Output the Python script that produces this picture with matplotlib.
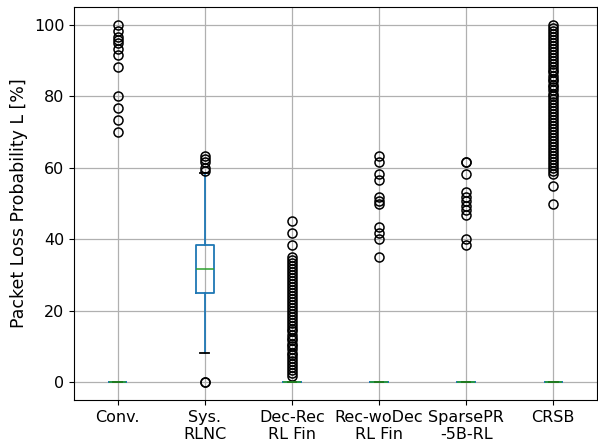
import matplotlib
matplotlib.use('Agg')
import matplotlib.pyplot as plt

# Box statistics, one entry per scheme
labels = ['Conv.', 'Sys.\nRLNC', 'Dec-Rec\nRL Fin', 'Rec-woDec\nRL Fin',
          'SparsePR\n-5B-RL', 'CRSB']
medians = [0, 31.7, 0, 0, 0, 0]
q1 = [0, 25.0, 0, 0, 0, 0]
q3 = [0, 38.3, 0, 0, 0, 0]
whislo = [0, 8.3, 0, 0, 0, 0]
whishi = [0, 58.5, 0, 0, 0, 0]

fliers_conv = [100.0, 98.3, 96.7, 95.8, 95.0, 93.3, 91.7, 88.3,
               80.0, 76.7, 73.3, 70.0]
fliers_sys = [0.0, 0.0, 59.2, 60.0, 61.7, 62.5, 63.3]
fliers_decrec = [1.7, 2.5, 3.3, 4.2, 5.0, 5.8, 6.7, 7.5, 8.3, 9.2, 10.0,
                 10.8, 11.7, 12.5, 13.3, 14.2, 15.0, 15.8, 16.7, 17.5, 18.3,
                 19.2, 20.0, 20.8, 21.7, 22.5, 23.3, 24.2, 25.0, 25.8, 26.7,
                 27.5, 28.3, 29.2, 30.0, 30.8, 31.7, 32.5, 33.3, 34.2, 35.0,
                 38.3, 41.7, 45.0]
fliers_recwodec = [35.0, 40.0, 41.7, 43.3, 50.0, 50.8, 51.7, 56.7, 58.3,
                   61.7, 63.3]
fliers_sparse = [38.3, 40.0, 46.7, 48.3, 49.2, 50.8, 51.7, 53.3, 58.3,
                 61.7, 61.7]
fliers_crsb = [50.0, 55.0, 58.3, 59.2, 60.0, 60.8, 61.7, 62.5, 63.3, 64.2,
               65.0, 65.8, 66.7, 67.5, 68.3, 69.2, 70.0, 70.8, 71.7, 72.5,
               73.3, 74.2, 75.0, 75.8, 76.7, 77.5, 78.3, 79.2, 80.0, 80.8,
               81.7, 82.5, 83.3, 84.2, 85.0, 85.8, 86.7, 87.5, 88.3, 89.2,
               90.0, 90.8, 91.7, 92.5, 93.3, 94.2, 95.0, 95.8, 96.7, 97.5,
               98.3, 99.2, 100.0]
fliers = [fliers_conv, fliers_sys, fliers_decrec, fliers_recwodec,
          fliers_sparse, fliers_crsb]

stats = []
for i in range(len(labels)):
    stats.append({'med': medians[i], 'q1': q1[i], 'q3': q3[i],
                  'whislo': whislo[i], 'whishi': whishi[i],
                  'fliers': fliers[i], 'label': labels[i]})

plt.rcParams['font.size'] = 11.5
fig = plt.figure(figsize=(5.98, 4.43), dpi=100)
ax = fig.add_axes([0.124, 0.097, 0.874, 0.887])

ax.bxp(stats, widths=0.2,
       boxprops=dict(color='#1f77b4', linewidth=1.3),
       whiskerprops=dict(color='#1f77b4', linewidth=1.3),
       medianprops=dict(color='#2ca02c', linewidth=1.1),
       capprops=dict(color='black', linewidth=1.3),
       flierprops=dict(marker='o', markerfacecolor='none',
                       markeredgecolor='black', markersize=6.5,
                       markeredgewidth=1.1))

ax.grid(True, color='#b0b0b0', linewidth=0.9)
ax.set_axisbelow(True)
ax.set_ylabel('Packet Loss Probability L [%]', fontsize=12.5)
ax.set_ylim(-5, 105)

fig.savefig('out.png', dpi=100)
